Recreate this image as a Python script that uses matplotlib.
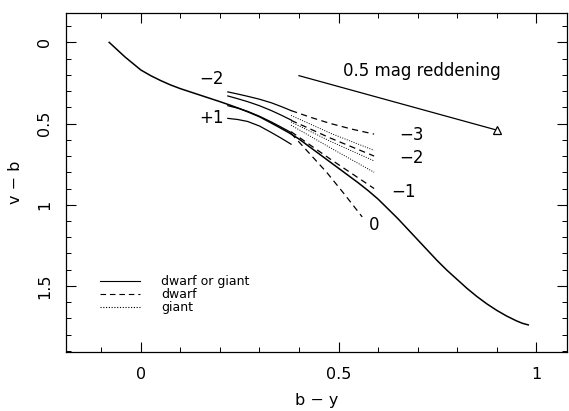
import numpy as np
import matplotlib.pyplot as plt
from matplotlib.ticker import MultipleLocator

plt.rcParams['font.family'] = ['DejaVu Sans']

# main sequence relation (v-b vs b-y)
ms_by = [-0.08, -0.06, -0.04, -0.02, 0.0, 0.025, 0.05, 0.075, 0.10, 0.125, 0.15, 0.175,
         0.20, 0.225, 0.25, 0.275, 0.30, 0.325, 0.35, 0.375, 0.40, 0.425, 0.45, 0.475,
         0.50, 0.525, 0.55, 0.575, 0.60, 0.625, 0.65, 0.675, 0.70, 0.725, 0.75, 0.775,
         0.80, 0.825, 0.85, 0.875, 0.90, 0.925, 0.95, 0.965, 0.98]
ms_vb = [0.0, 0.045, 0.09, 0.13, 0.17, 0.205, 0.235, 0.262, 0.285, 0.305, 0.325, 0.345,
         0.365, 0.386, 0.408, 0.432, 0.458, 0.49, 0.523, 0.557, 0.595, 0.64, 0.685, 0.73,
         0.775, 0.82, 0.865, 0.913, 0.965, 1.025, 1.085, 1.15, 1.215, 1.28, 1.345, 1.405,
         1.46, 1.515, 1.565, 1.61, 1.65, 1.685, 1.715, 1.73, 1.74]

# dwarf or giant (solid) tracks
solid_by = [0.22, 0.245, 0.27, 0.30, 0.33, 0.355, 0.38]
solid_vb = {
    '-2a': [0.305, 0.318, 0.332, 0.35, 0.372, 0.395, 0.42],
    '-2b': [0.33, 0.347, 0.365, 0.39, 0.42, 0.448, 0.478],
    '0':   [0.39, 0.405, 0.425, 0.455, 0.49, 0.522, 0.555],
    '+1':  [0.468, 0.475, 0.487, 0.515, 0.555, 0.59, 0.627],
}

# dwarf (dashed) tracks
dwarf_by = [0.38, 0.43, 0.48, 0.535, 0.59]
dwarf_vb = {
    '-3': [0.42, 0.462, 0.50, 0.535, 0.565],
    '-2': [0.48, 0.535, 0.59, 0.645, 0.70],
    '-1': [0.55, 0.635, 0.72, 0.81, 0.90],
}
dwarf0_by = [0.38, 0.425, 0.47, 0.515, 0.56]
dwarf0_vb = [0.56, 0.68, 0.80, 0.935, 1.075]

# giant (dotted) tracks
giant_by = [0.38, 0.48, 0.59]
giant_vb = {
    'a': [0.45, 0.56, 0.665],
    'b': [0.49, 0.61, 0.73],
    'c': [0.51, 0.65, 0.80],
}

# reddening vector
redd_by = [0.40, 0.90]
redd_vb = [0.205, 0.54]

fig = plt.figure(figsize=(5.69, 4.11), dpi=100)
ax = fig.add_axes([0.1155, 0.1443, 0.881, 0.8237])

lw = 0.9
dash = (0, (5, 3.5))
dots = (0, (1, 1.5))
ax.plot(ms_by, ms_vb, color='black', lw=1.1)
for k, v in solid_vb.items():
    ax.plot(solid_by, v, color='black', lw=lw)
for k, v in dwarf_vb.items():
    ax.plot(dwarf_by, v, color='black', lw=lw, ls=dash)
ax.plot(dwarf0_by, dwarf0_vb, color='black', lw=lw, ls=dash)
for k, v in giant_vb.items():
    ax.plot(giant_by, v, color='black', lw=0.7, ls=dots)

ax.plot(redd_by, redd_vb, color='black', lw=lw)
ax.plot(redd_by[-1], redd_vb[-1], marker='^', ms=6, mfc='white', mec='black', mew=0.9)
ax.text(0.71, 0.175, '0.5 mag reddening', ha='center', va='center', fontsize=12)

# magnitude labels
ax.text(0.18, 0.227, '\u22122', ha='center', va='center', fontsize=12)
ax.text(0.18, 0.468, '+1', ha='center', va='center', fontsize=12)
ax.text(0.685, 0.57, '\u22123', ha='center', va='center', fontsize=12)
ax.text(0.685, 0.713, '\u22122', ha='center', va='center', fontsize=12)
ax.text(0.665, 0.92, '\u22121', ha='center', va='center', fontsize=12)
ax.text(0.59, 1.125, '0', ha='center', va='center', fontsize=12)

# legend
leg_rows = [('dwarf or giant', '-'), ('dwarf', dash), ('giant', dots)]
for i, (lab, ls) in enumerate(leg_rows):
    yy = 0.17 - (i - 1) * 0.038
    ax.plot([0.068, 0.148], [yy, yy], color='black', lw=0.8, ls=ls, transform=ax.transAxes)
    ax.text(0.19, yy, lab, ha='left', va='center', fontsize=9, transform=ax.transAxes)

ax.set_xlim(-0.19, 1.078)
ax.set_ylim(1.905, -0.18)
ax.xaxis.set_minor_locator(MultipleLocator(0.1))
ax.yaxis.set_minor_locator(MultipleLocator(0.1))
ax.set_xticks([0, 0.5, 1])
ax.set_xticklabels(['0', '0.5', '1'])
ax.set_yticks([0, 0.5, 1, 1.5])
ax.set_yticklabels(['0', '0.5', '1', '1.5'], rotation=90, va='center')
ax.tick_params(which='both', direction='in', top=True, right=True, labelsize=11.5)
ax.tick_params(which='major', length=7, width=0.8)
ax.tick_params(which='minor', length=3.5, width=0.7)
ax.tick_params(axis='x', pad=11)
ax.tick_params(axis='y', pad=10)
for sp in ax.spines.values():
    sp.set_linewidth(0.9)

ax.set_xlabel('b \u2212 y', fontsize=11.5, labelpad=8)
ax.set_ylabel('v \u2212 b', fontsize=11.5, labelpad=10)

fig.savefig('out.png', dpi=100)
